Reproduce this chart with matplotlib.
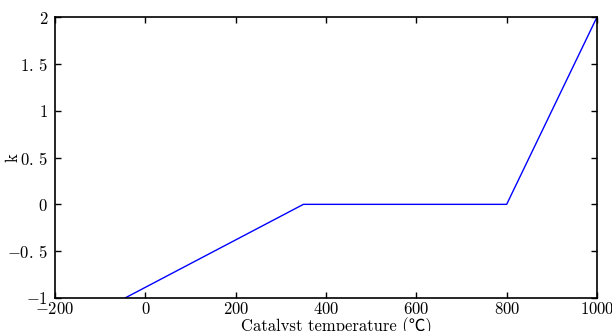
import numpy as np
import matplotlib
matplotlib.use('Agg')
import matplotlib.pyplot as plt
from matplotlib.ticker import FuncFormatter

# data
temp = [-45, 350, 800, 1000]
k = [-1, 0, 0, 2]
xticks = [-200, 0, 200, 400, 600, 800, 1000]
yticks = [-1, -0.5, 0, 0.5, 1, 1.5, 2]

plt.rcParams['font.family'] = ['cmr10', 'Noto Sans CJK SC', 'DejaVu Serif']
plt.rcParams['mathtext.fontset'] = 'cm'
plt.rcParams['axes.unicode_minus'] = False
plt.rcParams['font.size'] = 12


def fmt(v, p):
    # old mathtext put a small gap after the decimal point
    return '$%s$' % ('%g' % v).replace('.', '.\\,')


fig = plt.figure(figsize=(6.12, 3.31), dpi=100)
ax = fig.add_axes([0.0899, 0.0997, 0.8856, 0.8489])
ax.plot(temp, k, color='#0000ff', linewidth=1)

ax.set_xlim(-200, 1000)
ax.set_ylim(-1, 2)
ax.set_xticks(xticks)
ax.set_yticks(yticks)
ax.xaxis.set_major_formatter(FuncFormatter(fmt))
ax.yaxis.set_major_formatter(FuncFormatter(fmt))
ax.tick_params(direction='in', top=True, right=True, length=4, width=1, labelsize=12)
ax.tick_params(axis='x', pad=2)
ax.tick_params(axis='y', pad=5)
for s in ax.spines.values():
    s.set_linewidth(1.2)

ax.set_xlabel('Catalyst temperature (℃)', fontsize=12)
ax.set_ylabel('k', fontsize=12)
ax.xaxis.set_label_coords(0.52, -0.07)
ax.yaxis.set_label_coords(-0.064, 0.5)

fig.savefig('out.png', dpi=100)
